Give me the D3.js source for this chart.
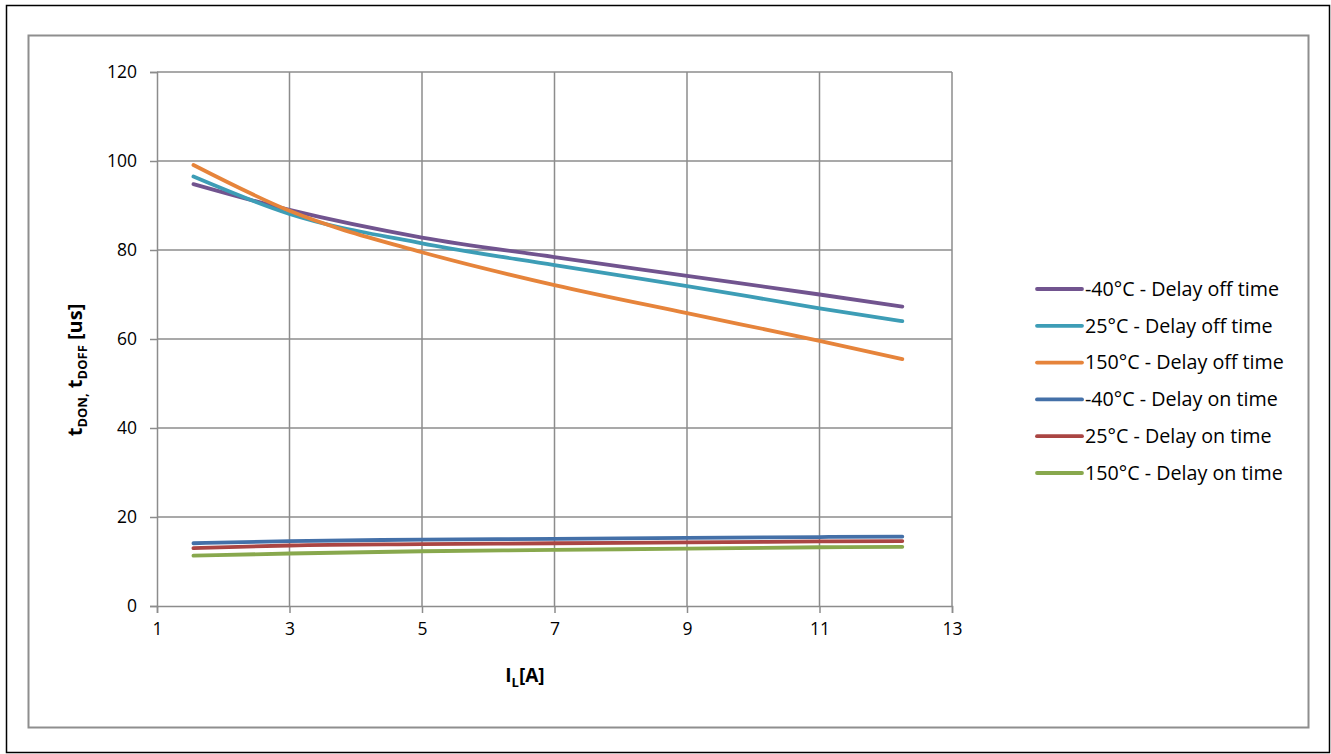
<!DOCTYPE html>
<html>
<head>
<meta charset="utf-8">
<script src="https://cdn.jsdelivr.net/npm/d3@7"></script>
<style>
  body { margin: 0; background: #fff; }
  svg text { font-family: "Open Sans", "DejaVu Sans", sans-serif; }
</style>
</head>
<body>
<div id="chart"></div>
<script>
// data
var currents = [1.55, 3, 5, 7, 9, 11, 12.25]
var offM40 = [94.8, 89.0, 82.8, 78.4, 74.2, 70.0, 67.3]
var off25 = [96.5, 88.1, 81.5, 76.6, 71.9, 66.9, 64.0]
var off150 = [99.1, 88.8, 79.5, 72.1, 65.8, 59.6, 55.5]
var onM40 = [14.1, 14.6, 14.9, 15.1, 15.3, 15.5, 15.6]
var on25 = [13.0, 13.6, 13.9, 14.1, 14.3, 14.5, 14.6]
var on150 = [11.3, 11.8, 12.3, 12.6, 12.9, 13.2, 13.3]
var seriesNames = ["-40°C - Delay off time", "25°C - Delay off time", "150°C - Delay off time",
                   "-40°C - Delay on time", "25°C - Delay on time", "150°C - Delay on time"]
var seriesValues = [offM40, off25, off150, onM40, on25, on150]
var xTicks = [1, 3, 5, 7, 9, 11, 13]
var yTicks = [0, 20, 40, 60, 80, 100, 120]

var colors = ["#71548f", "#3d9db6", "#e6843b", "#4470a8", "#aa4543", "#88a84d"]

var W = 1331, H = 754
var plot = {left: 157, top: 72, right: 952, bottom: 606}

var svg = d3.select("#chart").append("svg")
    .attr("width", W).attr("height", H)

// outer borders
svg.append("rect")
    .attr("x", 6.5).attr("y", 5.5).attr("width", 1323).attr("height", 747)
    .attr("fill", "none").attr("stroke", "#000").attr("stroke-width", 1.5)
svg.append("rect")
    .attr("x", 28.5).attr("y", 35.5).attr("width", 1280).attr("height", 692)
    .attr("fill", "none").attr("stroke", "#8e8e8e").attr("stroke-width", 2)

var x = d3.scaleLinear().domain([1, 13]).range([plot.left, plot.right])
var y = d3.scaleLinear().domain([0, 120]).range([plot.bottom, plot.top])

// grid
svg.append("g").selectAll("line").data(xTicks.slice(1)).enter().append("line")
    .attr("x1", function(d) { return x(d) }).attr("x2", function(d) { return x(d) })
    .attr("y1", plot.top).attr("y2", plot.bottom)
    .attr("stroke", "#8c8c8c").attr("stroke-width", 1.5)
svg.append("g").selectAll("line").data(yTicks.slice(1)).enter().append("line")
    .attr("x1", plot.left).attr("x2", plot.right)
    .attr("y1", function(d) { return y(d) }).attr("y2", function(d) { return y(d) })
    .attr("stroke", "#8c8c8c").attr("stroke-width", 1.5)

// axes
var yAxis = svg.append("g")
    .attr("transform", "translate(" + plot.left + ",0)")
    .call(d3.axisLeft(y).tickValues(yTicks).tickSize(7).tickPadding(13))
var xAxis = svg.append("g")
    .attr("transform", "translate(0," + plot.bottom + ")")
    .call(d3.axisBottom(x).tickValues(xTicks).tickSize(7).tickPadding(10))
svg.selectAll(".domain").attr("stroke", "#8c8c8c").attr("stroke-width", 1.5)
svg.selectAll(".tick line").attr("stroke", "#8c8c8c").attr("stroke-width", 1.5)
svg.selectAll(".tick text").attr("font-size", 17.5).attr("fill", "#000")
    .style("font-family", "'Open Sans', sans-serif")

// lines
var line = d3.line()
    .x(function(d, i) { return x(currents[i]) })
    .y(function(d) { return y(d) })
    .curve(d3.curveMonotoneX)
seriesValues.forEach(function(vals, k) {
    svg.append("path")
        .datum(vals)
        .attr("fill", "none")
        .attr("stroke", colors[k])
        .attr("stroke-width", 3.8)
        .attr("stroke-linecap", "round")
        .attr("d", line)
})

// axis titles
var yt = svg.append("text")
    .attr("transform", "translate(82,370) rotate(-90)")
    .attr("text-anchor", "middle")
    .attr("font-weight", "bold").attr("font-size", 20)
yt.append("tspan").text("t")
yt.append("tspan").attr("font-size", 13).attr("dy", 5).text("DON,")
yt.append("tspan").attr("dy", -5).text(" t")
yt.append("tspan").attr("font-size", 13).attr("dy", 5).text("DOFF")
yt.append("tspan").attr("dy", -5).text(" [us]")

var xt = svg.append("text")
    .attr("x", 525).attr("y", 682)
    .attr("text-anchor", "middle")
    .attr("font-weight", "bold").attr("font-size", 19)
xt.append("tspan").text("I")
xt.append("tspan").attr("font-size", 13).attr("dy", 5).text("L")
xt.append("tspan").attr("dy", -5).text("[A]")

// legend
var leg = svg.append("g")
seriesNames.forEach(function(name, i) {
    var ly = 289 + i * 36.8
    leg.append("line")
        .attr("x1", 1037).attr("x2", 1082)
        .attr("y1", ly).attr("y2", ly)
        .attr("stroke", colors[i]).attr("stroke-width", 3.8)
        .attr("stroke-linecap", "round")
    leg.append("text")
        .attr("x", 1085).attr("y", ly)
        .attr("dy", "0.35em")
        .attr("font-size", 19.7)
        .text(name)
})
</script>
</body>
</html>
